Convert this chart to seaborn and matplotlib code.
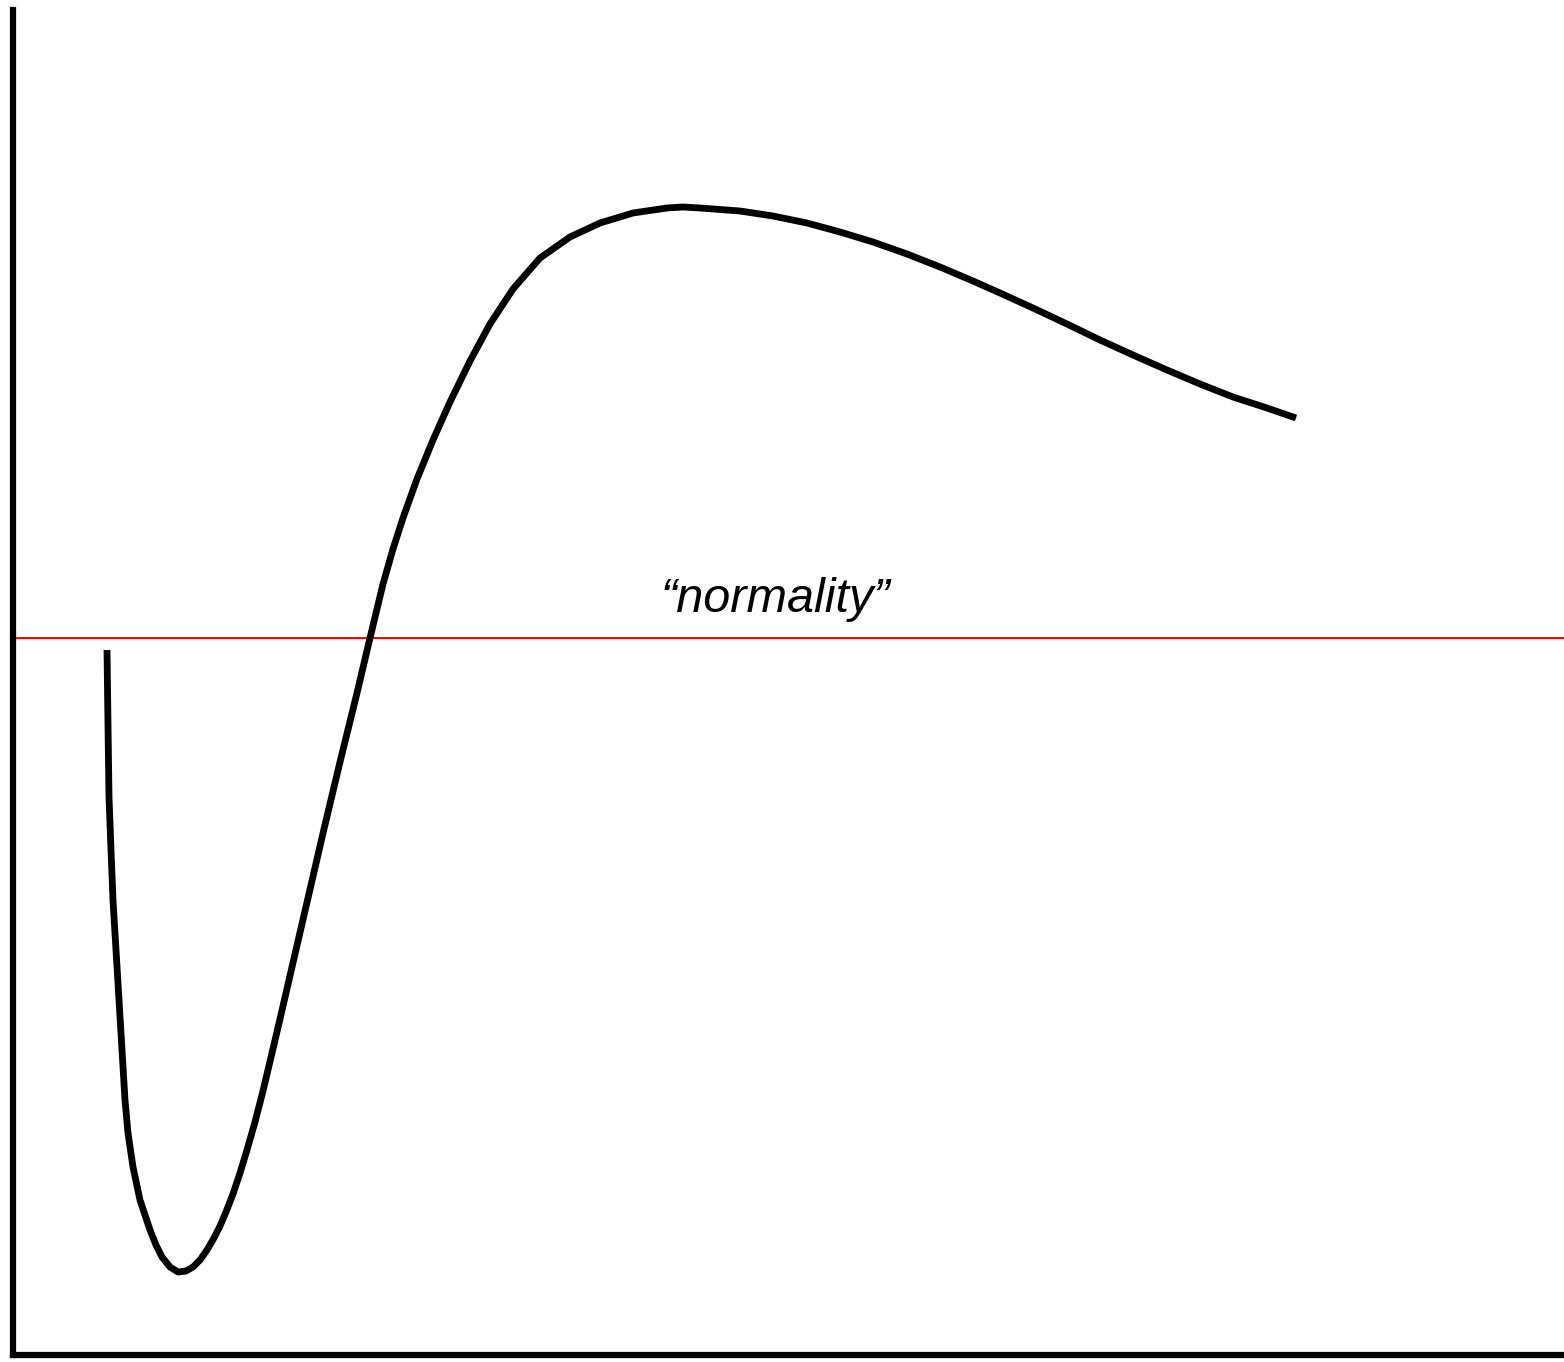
import seaborn as sns
import matplotlib.pyplot as plt
import pandas as pd

# curve (x along the bottom axis, y up from it)
curve_x = [93, 94, 94, 95, 97, 99, 102, 105, 108, 111, 114, 119, 126, 136, 142, 148,
           156, 164, 172, 179, 186, 193, 200, 206, 212, 219, 226, 233, 241, 249, 258,
           266, 278, 294, 310, 326, 343, 356, 369, 379, 389, 403, 419, 436, 456, 476,
           499, 526, 556, 586, 619, 653, 669, 686, 726, 759, 793, 826, 859, 893, 926,
           959, 986, 1019, 1053, 1086, 1119, 1153, 1186, 1219, 1253, 1282]
curve_y = [705, 655, 605, 558, 505, 455, 405, 355, 305, 255, 222, 188, 155, 125, 110, 98,
           88, 83, 84, 88, 95, 105, 117, 129, 143, 161, 182, 205, 233, 264, 302,
           336, 388, 457, 526, 593, 662, 717, 771, 806, 837, 876, 915, 953, 994, 1031,
           1066, 1097, 1118, 1132, 1142, 1147, 1148, 1147, 1144, 1139, 1132, 1123, 1113,
           1101, 1088, 1074, 1062, 1047, 1031, 1015, 1000, 985, 971, 958, 947, 937]
normality_level = 717
label_text = "\u201cnormality\u201d"

df = pd.DataFrame({"x": curve_x, "y": curve_y})

sns.set_style("white")
fig = plt.figure(figsize=(15.64, 13.62), dpi=100)
ax = fig.add_axes([13.5 / 1564, 7 / 1362, 1 - 13.5 / 1564, 1345 / 1362])

sns.lineplot(data=df, x="x", y="y", sort=False, color="black", lw=4.9,
             solid_joinstyle="round", solid_capstyle="butt", ax=ax)
ax.axhline(normality_level, color="#ff0000", lw=1.5, zorder=1)
ax.text(761, normality_level + 26, label_text, ha="center", va="baseline",
        fontsize=35, style="italic", family="Liberation Sans", color="black")

ax.set_xlim(-0.5, 1550)
ax.set_ylim(0, 1345)
ax.set_xticks([])
ax.set_yticks([])
ax.set_xlabel("")
ax.set_ylabel("")
sns.despine(ax=ax)
for side in ["left", "bottom"]:
    ax.spines[side].set_linewidth(4.5)
    ax.spines[side].set_color("black")

fig.savefig("out.png", dpi=100)
